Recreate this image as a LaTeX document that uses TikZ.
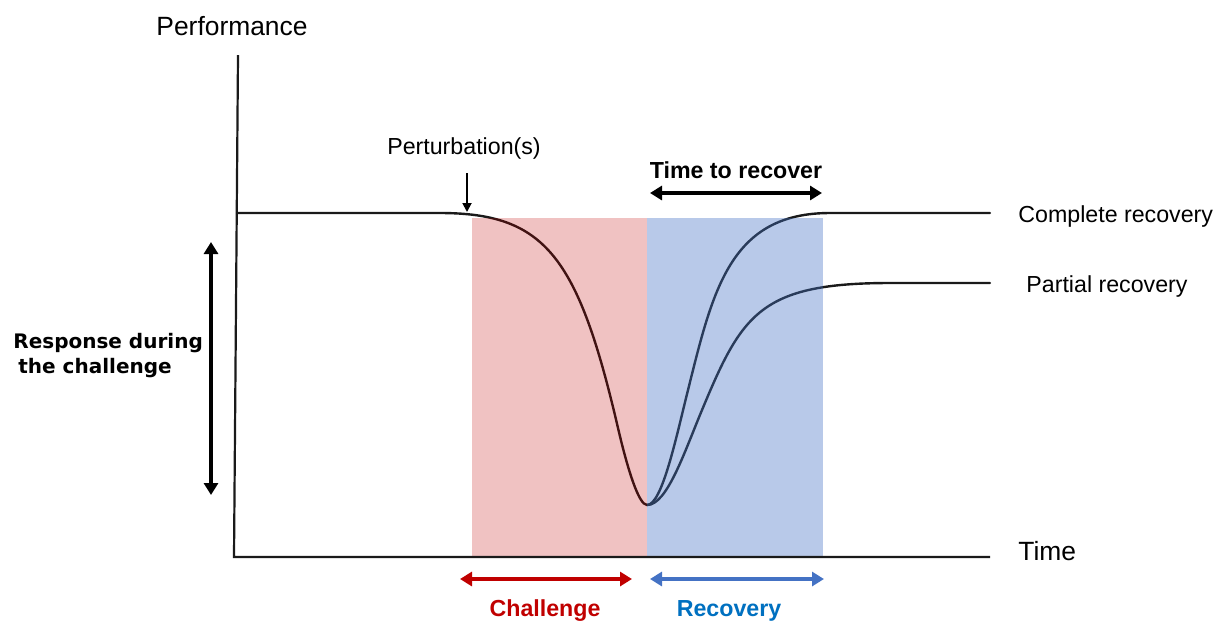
\documentclass[tikz,border=0pt]{standalone}
\usepackage{fontspec}
\setmainfont{Liberation Sans}
\newfontfamily\wideface{DejaVu Sans}
\usepackage{xcolor}
\definecolor{ink}{HTML}{1A1A1A}
\definecolor{challred}{HTML}{C00000}
\definecolor{recblue}{HTML}{0070C0}
\definecolor{arrblue}{HTML}{4472C4}
\usetikzlibrary{arrows.meta}
\tikzset{
  >={Triangle[length=6pt,width=7pt]},
  curve/.style={draw=ink,line width=1.2pt,line cap=round},
  axisline/.style={draw=ink,line width=1.1pt},
  dimarrow/.style={<->,draw=black,line width=1.8pt},
  ptarrow/.style={-{Triangle[length=4.5pt,width=4.5pt]},draw=black,line width=0.9pt},
  challzone/.style={fill=challred,fill opacity=0.24},
  reczone/.style={fill=arrblue,fill opacity=0.38},
  lbl/.style={font=\fontsize{11.6}{14}\selectfont,inner sep=0pt},
  axlbl/.style={font=\fontsize{13.2}{16}\selectfont,inner sep=0pt},
  boldlbl/.style={font=\fontsize{11.6}{14}\selectfont\bfseries,inner sep=0pt},
}
\begin{document}
\begin{tikzpicture}[x=0.5pt,y=-0.5pt]
  \useasboundingbox (0,0) rectangle (1230,623);
  % reference points
  \coordinate (origin) at (234,557);
  \coordinate (ytop) at (238,55);
  \coordinate (xend) at (990,557);
  \coordinate (trough) at (647,505);
  % performance curves
  \draw[curve] (237,213) -- (440,213) .. controls (545,213) and (578,256) .. (618,428)
    .. controls (628,471) and (639,505) .. (trough);
  \draw[curve] (trough) .. controls (662,505) and (676,438) .. (688,390)
    .. controls (713,290) and (730,213) .. (830,213) -- (990,213);
  \draw[curve] (trough) .. controls (667,505) and (684,453) .. (702,410)
    .. controls (742,314) and (760,283) .. (890,283) -- (990,283);
  % phases
  \fill[challzone] (472,218) rectangle (trough |- origin);
  \fill[reczone] (647,218) rectangle (823,557);
  % axes
  \draw[axisline] (ytop) -- (origin) -- (xend);
  \node[axlbl,anchor=base] (perf) at (232,35) {Performance};
  \node[axlbl,anchor=base west] (time) at (1018,560) {Time};
  % perturbation
  \node[lbl,anchor=base] (pert) at (464,154) {Perturbation(s)};
  \coordinate (perttail) at (467,173);
  \coordinate (perttip) at (467,212);
  \draw[ptarrow] (perttail) -- (perttip);
  % time to recover
  \node[boldlbl,anchor=base] (ttr) at (736,178) {Time to recover};
  \coordinate (ttrl) at (650,193);
  \coordinate (ttrr) at (822,193);
  \draw[dimarrow] (ttrl) -- (ttrr);
  % outcomes
  \node[lbl,anchor=base west] (full) at (1018,222) {Complete recovery};
  \node[lbl,anchor=base west] (part) at (1026,292) {Partial recovery};
  % response
  \node[anchor=west,align=left,inner sep=0pt,font=\wideface\bfseries\fontsize{10}{12.5}\selectfont]
    (resp) at (13,356) {Response during\\\hspace{2.5pt}the challenge};
  \coordinate (resptop) at (211,242);
  \coordinate (respbot) at (211,495);
  \draw[dimarrow] (resptop) -- (respbot);
  % phase spans
  \coordinate (chall) at (460,579);
  \coordinate (challr) at (632,579);
  \coordinate (recl) at (650,579);
  \coordinate (recr) at (824,579);
  \draw[dimarrow,draw=challred] (chall) -- (challr);
  \draw[dimarrow,draw=arrblue] (recl) -- (recr);
  \node[boldlbl,text=challred,anchor=base] (chal) at (545,616) {Challenge};
  \node[boldlbl,text=recblue,anchor=base] (reco) at (729,616) {Recovery};
\end{tikzpicture}
\end{document}
